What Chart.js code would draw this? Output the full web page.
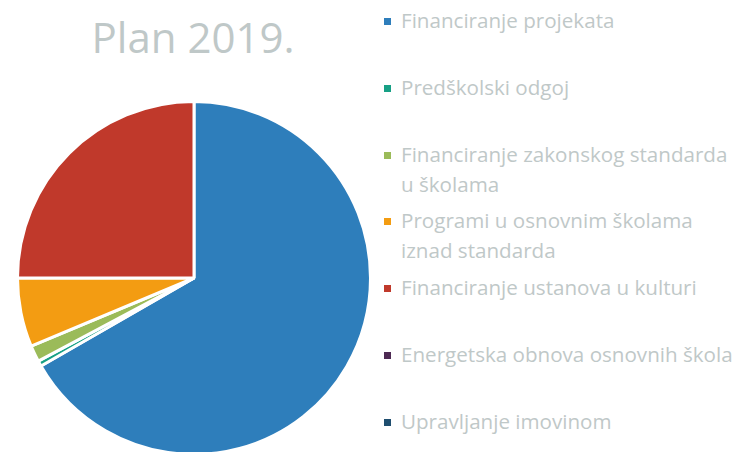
<!DOCTYPE html>
<html>
<head>
<meta charset="utf-8">
<script src="https://cdn.jsdelivr.net/npm/chart.js@4"></script>
<style>
    html, body { margin: 0; padding: 0; background: #fff; overflow: hidden; }
    body { width: 741px; height: 452px; position: relative; font-family: "Open Sans", Lato, sans-serif; }
    #naslov {
        position: absolute; left: 0; width: 386px; top: 9px;
        text-align: center; font-size: 42px; color: #bfc8c8; line-height: 56px;
    }
    #pieWrap { position: absolute; left: 16px; top: 100px; width: 356px; height: 356px; }
    #legenda { position: absolute; left: 383px; top: 0; width: 358px; }
    .stavka { position: absolute; left: 0; font-size: 20.6px; line-height: 30px; color: #bfc8c8; white-space: nowrap; }
    .stavka .kv { position: absolute; left: 1px; top: 13px; width: 7px; height: 7px; }
    .stavka .tekst { margin-left: 18px; }
</style>
</head>
<body>
<div id="naslov">Plan 2019.</div>
<div id="pieWrap"><canvas id="chartPie"></canvas></div>
<div id="legenda"></div>
<script>
const naslov = "Plan 2019.";
const kategorije = [
    "Financiranje projekata",
    "Predškolski odgoj",
    ["Financiranje zakonskog standarda", "u školama"],
    ["Programi u osnovnim školama", "iznad standarda"],
    "Financiranje ustanova u kulturi",
    "Energetska obnova osnovnih škola",
    "Upravljanje imovinom",
];
// udjeli u postotcima, procijenjeni sa slike
const vrijednosti = [66.7, 0.5, 1.5, 6.3, 25.0, 0, 0];
const boje = ["#2e7ebb", "#17a085", "#9bbb59", "#f39c12", "#c0392b", "#4e2a53", "#1f4e6f"];

$ = (s) => document.querySelector(s);

const chartPie = new Chart($("#chartPie"), {
    type: "pie",
    data: {
        labels: kategorije,
        datasets: [{
            label: naslov,
            data: vrijednosti,
            backgroundColor: boje,
            borderColor: "#ffffff",
            borderWidth: 3,
        }, ],
    },
    options: {
        responsive: true,
        maintainAspectRatio: false,
        animation: false,
        layout: { padding: 0 },
        plugins: {
            legend: { display: false },
            title: { display: false },
            tooltip: { enabled: false },
        },
    },
});

// legenda iz podataka grafa
const korak = 66.8;
chartPie.data.labels.forEach((lbl, i) => {
    const el = document.createElement("div");
    el.className = "stavka";
    el.style.top = (5 + i * korak) + "px";
    const tekst = Array.isArray(lbl) ? lbl.join("<br>") : lbl;
    el.innerHTML = '<span class="kv" style="background:' + boje[i] + '"></span><div class="tekst">' + tekst + "</div>";
    $("#legenda").appendChild(el);
});
</script>
</body>
</html>
